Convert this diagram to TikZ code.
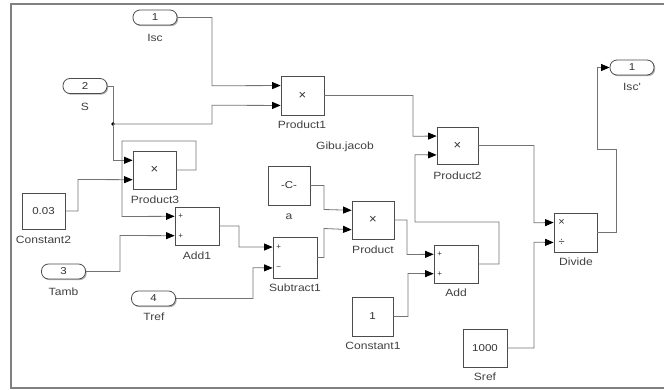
\documentclass[tikz,border=0pt]{standalone}
\usepackage{fontspec}
\setmainfont{Liberation Sans}
\newfontfamily\lblfont[FakeStretch=1.15]{Liberation Sans}
\usetikzlibrary{arrows.meta,calc,shadows}
\begin{document}
\begin{tikzpicture}[x=1pt,y=-1pt,
  blk/.style={draw=black!70,fill=white,line width=0.8pt,inner sep=0pt,
    drop shadow={shadow xshift=1.2pt,shadow yshift=-1.2pt,fill=black!30,opacity=1},
    font=\lblfont\fontsize{10}{12}\selectfont,text=black!80},
  port/.style={blk,rounded corners=7pt,minimum width=44pt,minimum height=15pt},
  mul/.style={blk,font=\fontsize{13}{14}\selectfont},
  lbl/.style={font=\lblfont\fontsize{10.5}{12}\selectfont,text=black!75,inner sep=0pt,text height=7.5pt,text depth=0pt},
  sgn/.style={font=\fontsize{8}{9}\selectfont,text=black!80,inner sep=0pt},
  conn/.style={draw=black!55,line width=0.8pt},
  arr/.style={conn,-{Triangle[length=8.5pt,width=7pt,color=black]}},
]
\useasboundingbox (0,0) rectangle (664,390);
\draw[black!50,line width=1.3pt] (11,4) rectangle (672,388);

% inports / outport
\node[port] (in1) at (155,17.5) {1};
\node[port] (in2) at (85,86) {2};
\node[port] (in3) at (63.5,271.5) {3};
\node[port] (in4) at (153.5,298.5) {4};
\node[port] (out1) at (632,67.5) {1};

% blocks
\node[mul,minimum width=43pt,minimum height=39pt] (prod1) at (302.5,95.5) {×};
\node[mul,minimum width=43pt,minimum height=38pt] (prod3) at (154.5,170) {×};
\node[blk,minimum width=43pt,minimum height=36pt] (c2) at (43.5,211) {0.03};
\node[blk,minimum width=44pt,minimum height=38pt] (add1) at (197,226) {};
\node[blk,minimum width=44pt,minimum height=41pt] (sub1) at (295,257.5) {};
\node[blk,minimum width=42pt,minimum height=39pt] (ca) at (289,185.5) {-C-};
\node[mul,minimum width=42pt,minimum height=38pt] (prod) at (373,220) {×};
\node[blk,minimum width=44pt,minimum height=38pt] (add) at (456,264) {};
\node[blk,minimum width=41pt,minimum height=39pt] (c1) at (372.5,316.5) {1};
\node[mul,minimum width=41pt,minimum height=37pt] (prod2) at (457.5,145.5) {×};
\node[blk,minimum width=43pt,minimum height=39pt] (div) at (575.5,232.5) {};
\node[blk,minimum width=44pt,minimum height=38pt] (sref) at (485,348) {1000};

% input ports
\foreach \b in {prod1,prod3,add1,sub1,prod,add,prod2,div}{
  \coordinate (\b-a) at ($(\b.north west)!0.25!(\b.south west)$);
  \coordinate (\b-b) at ($(\b.north west)!0.75!(\b.south west)$);
}

% input signs
\node[sgn] at ($(add1-a)+(6,0)$) {+};
\node[sgn] at ($(add1-b)+(6,0)$) {+};
\node[sgn] at ($(add-a)+(6,0)$) {+};
\node[sgn] at ($(add-b)+(6,0)$) {+};
\node[sgn] at ($(sub1-a)+(6,0)$) {+};
\node[sgn] at ($(sub1-b)+(6,0)$) {−};
\node[sgn,font=\fontsize{11}{12}\selectfont] at ($(div-a)+(8,0)$) {×};
\node[sgn,font=\fontsize{11}{12}\selectfont] at ($(div-b)+(8,0)$) {÷};

% labels
\node[lbl] (l-isc) at (155,38) {Isc};
\node[lbl] (l-s) at (85,107) {S};
\node[lbl] (l-tamb) at (63.5,292) {Tamb};
\node[lbl] (l-tref) at (154,317) {Tref};
\node[lbl] (l-out) at (632,87) {Isc'};
\node[lbl] (l-p1) at (302,125) {Product1};
\node[lbl] (l-p3) at (155,200) {Product3};
\node[lbl] (l-c2) at (43.5,240) {Constant2};
\node[lbl] (l-a1) at (197,256) {Add1};
\node[lbl] (l-s1) at (295,288) {Subtract1};
\node[lbl] (l-ca) at (289,216) {a};
\node[lbl] (l-p) at (373,250) {Product};
\node[lbl] (l-add) at (456,293) {Add};
\node[lbl] (l-c1) at (373,346) {Constant1};
\node[lbl] (l-p2) at (457.5,176) {Product2};
\node[lbl] (l-div) at (576,262) {Divide};
\node[lbl] (l-sref) at (485,377) {Sref};
\node[lbl] (l-gibu) at (345,146) {Gibu.jacob};

% connectors
\coordinate (j) at (113,124);
\draw[arr] (in1.east) -| (212,85.75) -- (prod1-a);
\draw[conn] (in2.east) -| (j);
\fill[black] (j) circle (1.8pt);
\draw[arr] (j) -| (212,105.25) -- (prod1-b);
\draw[arr] (j) |- (prod3-a);
\draw[arr] (c2.east) -| (78,179.5) -- (prod3-b);
\draw[arr] (prod3.east) -| (196,141) -| (122,216.5) -- (add1-a);
\draw[arr] (in3.east) -| (120,235.5) -- (add1-b);
\draw[arr] (add1.east) -| (239,247) -- (sub1-a);
\draw[arr] (in4.east) -| (253,267.75) -- (sub1-b);
\draw[arr] (ca.east) -| (324,209.5) -- (prod-a);
\draw[arr] (sub1.east) -| (324,228.5) -- (prod-b);
\draw[arr] (prod.east) -| (407,254.5) -- (add-a);
\draw[arr] (c1.east) -| (408,273.5) -- (add-b);
\draw[arr] (prod1.east) -| (413,136.25) -- (prod2-a);
\draw[arr] (add.east) -| (499,222) -| (415,154.75) -- (prod2-b);
\draw[arr] (prod2.east) -| (534,222.75) -- (div-a);
\draw[arr] (sref.east) -| (534,242.25) -- (div-b);
\draw[arr] (div.east) -| (616,149) -| (597,67.5) -- (out1.west);
\end{tikzpicture}
\end{document}
